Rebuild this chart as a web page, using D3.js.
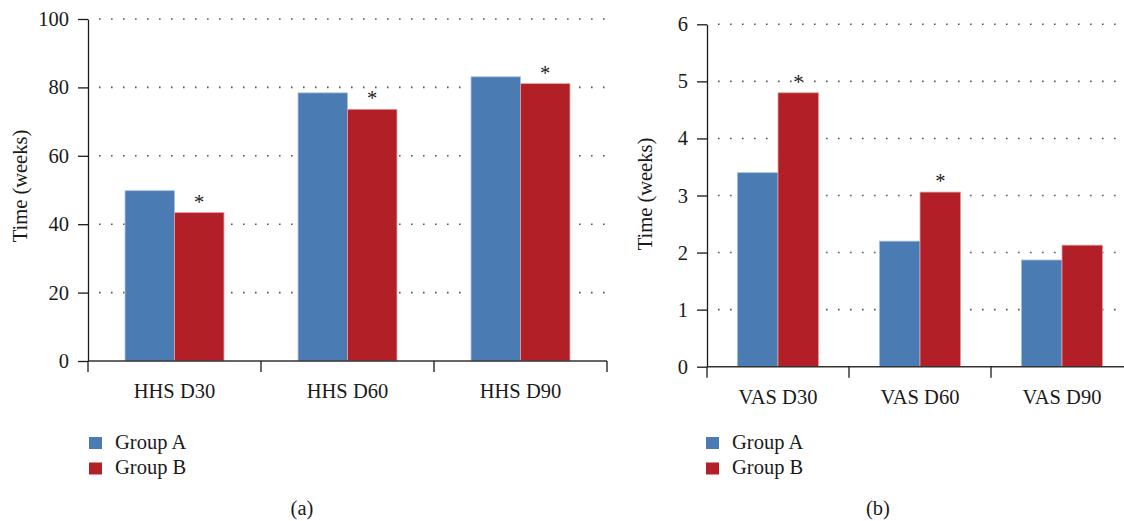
<!DOCTYPE html>
<html>
<head>
<meta charset="utf-8">
<script src="https://cdn.jsdelivr.net/npm/d3@7"></script>
<style>
  body { margin: 0; background: #fff; }
  svg { display: block; }
  text { font-family: "Liberation Serif", "DejaVu Serif", serif; fill: #1a1a1a; }
</style>
</head>
<body>
<svg id="chart" width="1124" height="521"></svg>
<script>
// data
var hhsCategories = ["HHS D30", "HHS D60", "HHS D90"];
var hhsGroupA = [49.8, 78.4, 83.1];
var hhsGroupB = [43.4, 73.6, 81.1];
var hhsStars = [true, true, true];
var hhsTicks = [0, 20, 40, 60, 80, 100];

var vasCategories = ["VAS D30", "VAS D60", "VAS D90"];
var vasGroupA = [3.4, 2.2, 1.87];
var vasGroupB = [4.8, 3.06, 2.13];
var vasStars = [true, true, false];
var vasTicks = [0, 1, 2, 3, 4, 5, 6];

var groups = ["Group A", "Group B"];
var colors = ["#4b7bb3", "#b21f26"];
var edges = ["#a9c0dd", "#e2a2a4"];
var fs = "20.5px";

var svg = d3.select("#chart");
svg.append("rect").attr("width", 1124).attr("height", 521).attr("fill", "#fff");

function panel(cfg) {
    var g = svg.append("g");
    var x0 = d3.scaleBand().domain(cfg.cats).range([cfg.left, cfg.right])
        .paddingInner(0.428).paddingOuter(0.214);
    var x1 = d3.scaleBand().domain(groups).range([0, x0.bandwidth()]);
    var y = d3.scaleLinear().domain([0, d3.max(cfg.ticks)]).range([cfg.bottom, cfg.top]);

    // dotted grid
    g.selectAll("line.grid").data(cfg.ticks.slice(1)).enter().append("line")
        .attr("class", "grid")
        .attr("x1", cfg.left + 11).attr("x2", cfg.right)
        .attr("y1", function(d) { return y(d); }).attr("y2", function(d) { return y(d); })
        .attr("stroke", "#555").attr("stroke-width", 1.6)
        .attr("stroke-dasharray", "1.6,10.4");

    // bars
    var rows = cfg.cats.map(function(c, i) {
        return { cat: c, vals: [cfg.a[i], cfg.b[i]], star: cfg.stars[i] };
    });
    var cat = g.selectAll("g.cat").data(rows).enter().append("g")
        .attr("transform", function(d) { return "translate(" + x0(d.cat) + ",0)"; });
    cat.selectAll("rect").data(function(d) {
        return d.vals.map(function(v, j) { return { key: groups[j], v: v, j: j }; });
    }).enter().append("rect")
        .attr("x", function(d) { return x1(d.key); })
        .attr("width", x1.bandwidth())
        .attr("y", function(d) { return y(d.v); })
        .attr("height", function(d) { return cfg.bottom - y(d.v); })
        .attr("fill", function(d) { return colors[d.j]; })
        .attr("stroke", function(d) { return edges[d.j]; })
        .attr("stroke-width", 0.8);
    cat.filter(function(d) { return d.star; }).append("text")
        .attr("x", x1("Group B") + x1.bandwidth() / 2)
        .attr("y", function(d) { return y(d.vals[1]) - 4; })
        .attr("text-anchor", "middle")
        .style("font-size", fs)
        .text("*");

    // y axis
    var yAxis = d3.axisLeft(y).tickValues(cfg.ticks).tickFormat(d3.format("d"))
        .tickSize(10).tickSizeOuter(0).tickPadding(9);
    var ya = g.append("g").attr("transform", "translate(" + cfg.left + ",0)").call(yAxis);
    ya.select(".domain").attr("stroke", "#1a1a1a").attr("stroke-width", 1.3);
    ya.selectAll(".tick line").attr("stroke", "#1a1a1a").attr("stroke-width", 1.3);
    ya.selectAll(".tick text").style("font-size", fs).style("font-family", "Liberation Serif").attr("fill", "#1a1a1a");

    // x axis line with boundary ticks
    g.append("line").attr("x1", cfg.left).attr("x2", cfg.right)
        .attr("y1", cfg.bottom).attr("y2", cfg.bottom)
        .attr("stroke", "#333").attr("stroke-width", 1.5);
    var bounds = cfg.cats.map(function(c) { return x0(c) - x0.step() * 0.214; }).concat([cfg.right]);
    g.selectAll("line.btick").data(bounds).enter().append("line")
        .attr("x1", function(d) { return d; }).attr("x2", function(d) { return d; })
        .attr("y1", cfg.bottom).attr("y2", cfg.bottom + 11)
        .attr("stroke", "#1a1a1a").attr("stroke-width", 1.3);
    g.selectAll("text.cat").data(cfg.cats).enter().append("text")
        .attr("x", function(d) { return x0(d) + x0.bandwidth() / 2; })
        .attr("y", cfg.bottom + 37)
        .attr("text-anchor", "middle")
        .style("font-size", fs)
        .text(function(d) { return d; });

    // axis title
    g.append("text")
        .attr("transform", "translate(" + cfg.titleX + "," + cfg.titleY + ") rotate(-90)")
        .attr("text-anchor", "middle")
        .style("font-size", fs)
        .text("Time (weeks)");

    // legend
    var lg = g.selectAll("g.leg").data(groups).enter().append("g")
        .attr("transform", function(d, i) { return "translate(" + cfg.legX + "," + (437 + i * 25.5) + ")"; });
    lg.append("rect").attr("width", 13).attr("height", 12)
        .attr("fill", function(d, i) { return colors[i]; });
    lg.append("text").attr("x", 26).attr("y", 11.5)
        .style("font-size", fs)
        .text(function(d) { return d; });

    g.append("text").attr("x", cfg.capX).attr("y", 515)
        .attr("text-anchor", "middle")
        .style("font-size", fs)
        .text(cfg.caption);
}

panel({ cats: hhsCategories, a: hhsGroupA, b: hhsGroupB, stars: hhsStars, ticks: hhsTicks,
        left: 88, right: 607, top: 19, bottom: 361, titleX: 27, titleY: 186, legX: 89, capX: 302, caption: "(a)" });
panel({ cats: vasCategories, a: vasGroupA, b: vasGroupB, stars: vasStars, ticks: vasTicks,
        left: 707, right: 1133, top: 24.3, bottom: 366.7, titleX: 652, titleY: 194, legX: 706, capX: 878, caption: "(b)" });
</script>
</body>
</html>
